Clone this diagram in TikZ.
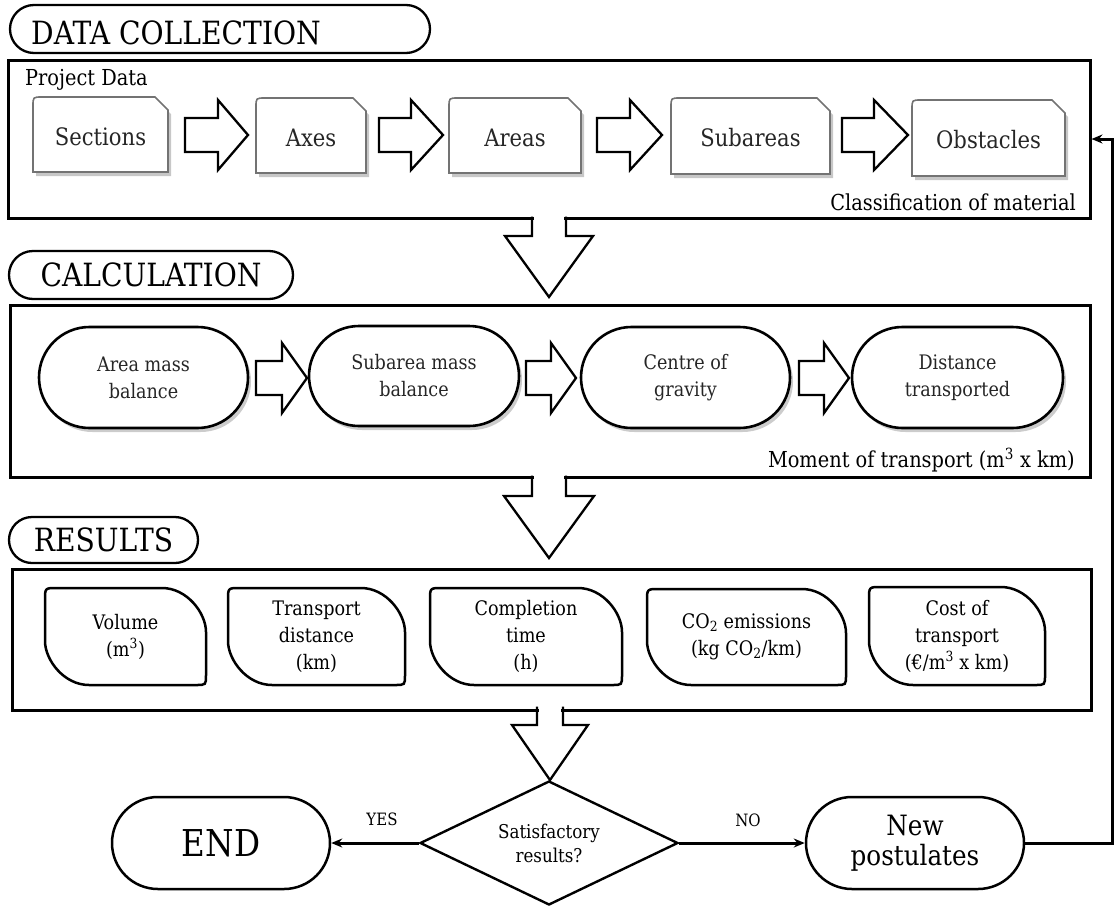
\documentclass[tikz,border=0pt]{standalone}
\usepackage{fontspec}
\setmainfont[FakeStretch=0.88]{DejaVu Serif}
\usetikzlibrary{shapes.misc,shapes.geometric,shadows,arrows.meta}
\newcommand\cardbox[6]{%
  \path[cardline] (#2,#5) -- (#2,#3+9) .. controls (#2,#3) .. (#2+9,#3) -- (#4-13,#3) -- (#4,#3+13) -- (#4,#5) -- cycle;
  \node[cardtext, minimum width={#4-#2}, minimum height={#5-#3}] (#1) at ({(#2+#4)/2},{(#3+#5)/2+2}) {#6};
}
\newcommand\resbox[6]{%
  \draw[resline] (#2,#3+12) .. controls (#2,#3) .. (#2+12,#3) -- (#4-44,#3) .. controls (#4-19,#3) and (#4,#3+25) .. (#4,#3+44) -- (#4,#5-10) .. controls (#4,#5) .. (#4-10,#5) -- (#2+44,#5) .. controls (#2+19,#5) and (#2,#5-25) .. (#2,#5-44) -- cycle;
  \node[restext, minimum width={#4-#2}, minimum height={#5-#3}] (#1) at ({(#2+#4)/2},{(#3+#5)/2}) {#6};
}
\newcommand\rblock[4]{%
  \draw[blk] (#1,#4-17) -- (#2,#4-17) -- (#2,#4-35) -- (#3,#4) -- (#2,#4+35) -- (#2,#4+17) -- (#1,#4+17) -- cycle;
}
\newcommand\dblock[6]{%
  \fill[white] (#4-#5+1.8,#1-3) rectangle (#4+#5-1.8,#2);
  \draw[blk, fill=none] (#4-#5,#1-1.5) -- (#4-#5,#2) -- (#4-#6,#2) -- (#4,#3) -- (#4+#6,#2) -- (#4+#5,#2) -- (#4+#5,#1-1.5);
}
\begin{document}
\begin{tikzpicture}[x=1pt,y=-1pt,
  box/.style={draw=black, line width=3pt, rectangle, inner sep=0pt},
  pill/.style={draw, line width=2.3pt, rounded rectangle, inner sep=0pt, font=\fontsize{32}{38}\selectfont},
  hdr/.style={inner sep=0pt, font=\fontsize{32}{38}\selectfont},
  cardtext/.style={inner sep=0pt, font=\fontsize{24}{28}\selectfont, text=black!85},
  cardline/.style={draw=black!55, line width=1.6pt, fill=white, drop shadow={shadow xshift=3pt, shadow yshift=-4pt, opacity=0.22, fill=black}},
  stad/.style={rounded rectangle, draw, line width=2.6pt, fill=white, align=center, inner sep=0pt, font=\fontsize{20}{27}\selectfont, text=black!85, drop shadow={shadow xshift=3pt, shadow yshift=-4pt, opacity=0.2, fill=black}},
  blk/.style={draw, line width=2.3pt, fill=white, line join=miter},
  resline/.style={draw, line width=2.5pt},
  restext/.style={align=center, inner sep=0pt, font=\fontsize{20}{27}\selectfont},
  term/.style={rounded rectangle, draw, line width=2.5pt, minimum width=218pt, minimum height=92pt, inner sep=0pt, align=center},
  conn/.style={line width=3pt, -{Stealth[length=11pt,width=9pt]}},
  lbl/.style={font=\fontsize{17}{20}\selectfont, inner sep=0pt},
  note/.style={font=\fontsize{22}{26}\selectfont, inner sep=0pt},
]
\useasboundingbox (0,0) rectangle (1118,905);

% ---------- DATA COLLECTION ----------
\node[pill, minimum width=420pt, minimum height=48pt] (h1) at (220,29) {};
\node[hdr, anchor=base west] (h1t) at (31,44) {DATA COLLECTION};
\node[box, minimum width=1082pt, minimum height=158pt] (box1) at (549,139) {};
\node[note, anchor=base west] (pd) at (25,85) {Project Data};
\node[note, anchor=base east] (cm) at (1076,210) {Classification of material};

\cardbox{sec}{33}{97}{168}{172}{Sections}
\cardbox{axe}{256}{98}{366}{173}{Axes}
\cardbox{are}{449}{98}{581}{173}{Areas}
\cardbox{sub}{671}{98}{830}{174}{Subareas}
\cardbox{obs}{912}{100}{1065}{176}{Obstacles}

\rblock{185}{218}{248}{135}
\rblock{379}{411}{443}{135}
\rblock{597}{630}{662}{135}
\rblock{842}{874}{908}{135}

% ---------- CALCULATION ----------
\node[pill, minimum width=284pt, minimum height=48pt] (h2) at (151,275) {CALCULATION};
\node[box, minimum width=1080pt, minimum height=172pt] (box2) at (550,391) {};
\node[note, anchor=base east] (mt) at (1075,467) {Moment of transport (m\textsuperscript{3} x km)};

\node[stad, minimum width=209pt, minimum height=101pt] (amb) at (143.5,377.5) {Area mass\\balance};
\node[stad, minimum width=210pt, minimum height=100pt] (smb) at (414,376) {Subarea mass\\balance};
\node[stad, minimum width=209pt, minimum height=101pt] (cog) at (685.5,377.5) {Centre of\\gravity};
\node[stad, minimum width=211pt, minimum height=101pt] (dtr) at (957.5,377.5) {Distance\\transported};

\rblock{256}{282}{307}{378}
\rblock{526}{551}{576}{378}
\rblock{799}{824}{849}{378}

% ---------- RESULTS ----------
\node[pill, minimum width=189pt, minimum height=46pt] (h3) at (103.5,540) {RESULTS};
\node[box, minimum width=1079pt, minimum height=141pt] (box3) at (551.5,639.5) {};

\resbox{vol}{45}{588}{206}{685}{Volume\\(m\textsuperscript{3})}
\resbox{tdi}{228}{588}{405}{685}{Transport\\distance\\(km)}
\resbox{cti}{430}{588}{622}{685}{Completion\\time\\(h)}
\resbox{coe}{647}{589}{846}{685}{CO\textsubscript{2} emissions\\(kg CO\textsubscript{2}/km)}
\resbox{cot}{869}{587}{1045}{685}{Cost of\\transport\\(€/m\textsuperscript{3} x km)}

% ---------- down block arrows ----------
\dblock{218}{236}{297}{549}{17}{44}
\dblock{477}{496}{558}{549}{17}{45}
\dblock{708}{725}{780}{550}{13}{38}

% ---------- decision ----------
\node[diamond, draw, line width=2.4pt, aspect=2.08, minimum width=258pt, minimum height=124pt, inner sep=0pt, align=center, font=\fontsize{19}{24}\selectfont] (dia) at (549,843) {Satisfactory\\results?};
\node[term, font=\fontsize{37}{40}\selectfont] (endn) at (221,843) {END};
\node[term, font=\fontsize{28}{30}\selectfont] (newp) at (915,843) {New\\postulates};

\draw[conn] (dia.west) -- (endn.east);
\draw[conn] (dia.east) -- (newp.west);
\coordinate (rc) at (1112,843);
\draw[conn] (newp.east) -- (rc) |- (box1.east);
\node[lbl] (yes) at (382,819) {YES};
\node[lbl] (no) at (748,820) {NO};
\end{tikzpicture}
\end{document}
